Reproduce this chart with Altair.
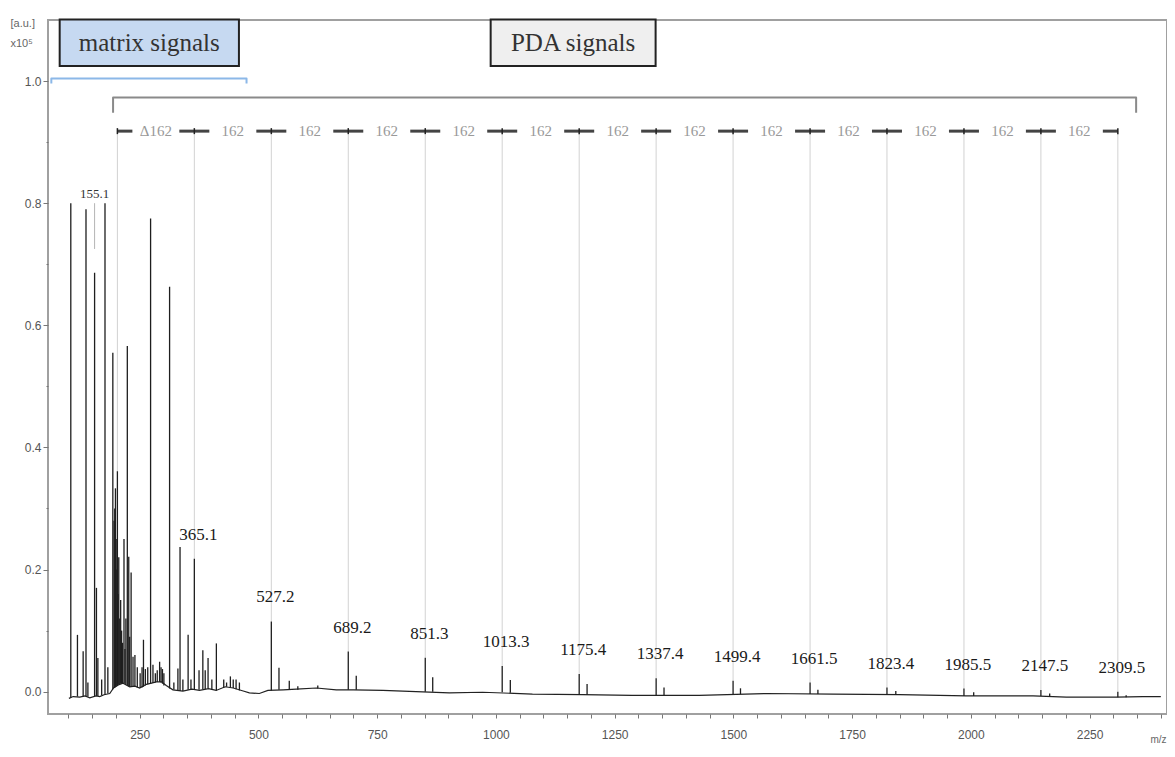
import altair as alt
import pandas as pd

# ---------------- data (intensity in units of 1e5 a.u.) ----------------
X_DOMAIN = [57, 2413]
Y_DOMAIN = [-0.0366, 1.1]
X_TICKS = list(range(100, 2401, 50))
Y_TICKS = [0.0, 0.1, 0.2, 0.3, 0.4, 0.5, 0.6, 0.7, 0.8, 0.9, 1.0]

# matrix-region peaks: m/z, apex intensity, foot intensity
MATRIX_MZ = [105, 119, 131, 137, 141, 155.1, 159, 162, 170, 177, 183, 193.5, 196, 197.5, 199, 200.5,
             202, 203.1, 204.5, 206, 208, 210, 212, 214, 217, 219, 221, 224, 227, 229, 232, 236, 240, 245,
             251, 255, 258, 262, 267, 273, 278, 283, 287, 292, 295, 298, 301, 313, 322, 330.5, 335, 341,
             352, 358, 365.1, 375, 383, 388, 394, 402, 411.5, 427, 433, 441, 447, 453, 460]
MATRIX_TOP = [0.80, 0.093, 0.066, 0.79, 0.015, 0.686, 0.17, 0.055, 0.02, 0.80, 0.04, 0.555, 0.28, 0.30, 0.333, 0.25,
              0.20, 0.361, 0.16, 0.22, 0.12, 0.15, 0.10, 0.08, 0.25, 0.07, 0.12, 0.566, 0.221, 0.09, 0.195, 0.057, 0.06, 0.04,
              0.03, 0.04, 0.085, 0.037, 0.04, 0.775, 0.044, 0.03, 0.035, 0.049, 0.04, 0.037, 0.03, 0.663, 0.015, 0.038, 0.237, 0.02,
              0.093, 0.02, 0.2175, 0.035, 0.068, 0.035, 0.055, 0.02, 0.079, 0.02, 0.015, 0.025, 0.02, 0.02, 0.015]
MATRIX_BASE = [-0.009, -0.008, -0.008, -0.008, -0.008, -0.007, -0.007, -0.007, -0.006, -0.005, -0.003, 0.004, 0.006, 0.007, 0.008, 0.009,
               0.010, 0.011, 0.011, 0.012, 0.012, 0.013, 0.013, 0.014, 0.014, 0.013, 0.012, 0.011, 0.009, 0.008, 0.008, 0.008, 0.009, 0.007,
               0.006, 0.007, 0.008, 0.010, 0.012, 0.013, 0.014, 0.015, 0.016, 0.016, 0.015, 0.013, 0.010, 0.005, 0.003, 0.002, 0.001, 0.001,
               0.003, 0.004, 0.004, 0.003, 0.004, 0.004, 0.005, 0.003, 0.002, 0.006, 0.008, 0.007, 0.006, 0.004, 0.002]

# PDA series peaks
PDA_MZ = [527.2, 689.2, 851.3, 1013.3, 1175.4, 1337.4, 1499.4, 1661.5, 1823.4, 1985.5, 2147.5, 2309.5]
PDA_TOP = [0.115, 0.0656, 0.0557, 0.042, 0.029, 0.022, 0.018, 0.0148, 0.0066, 0.005, 0.0028, 0.0]
PDA_BASE = [0.002, 0.003, 0.0, -0.001, -0.005, -0.006, -0.004, -0.004, -0.005, -0.007, -0.007, -0.009]

# smaller companion peaks
SIDE_MZ = [543.3, 565, 583, 625, 706, 867, 1030.4, 1192, 1354, 1515, 1678, 1842, 2006, 2166, 2327]
SIDE_TOP = [0.039, 0.018, 0.009, 0.01, 0.026, 0.0236, 0.019, 0.0126, 0.007, 0.0055, 0.003, 0.001, -0.001, -0.003, -0.006]
SIDE_BASE = [0.003, 0.003, 0.003, 0.005, 0.003, 0.0, -0.002, -0.005, -0.006, -0.004, -0.004, -0.005, -0.007, -0.007, -0.009]

# baseline trace
BASE_MZ = [101, 110, 124, 135, 145, 158, 166, 175, 187, 195, 205, 215, 229, 240, 250, 264, 275, 285, 296, 306,
           320, 341, 360, 376, 395, 411, 430, 447, 468, 481, 502, 520, 552, 580, 622, 664, 700, 762, 832, 902,
           972, 1077, 1182, 1287, 1428, 1569, 1710, 1850, 1990, 2131, 2201, 2306, 2362, 2400]
BASE_V = [-0.011, -0.008, -0.009, -0.007, -0.010, -0.007, -0.008, -0.005, -0.003, 0.006, 0.011, 0.014, 0.008, 0.009, 0.006,
          0.012, 0.014, 0.016, 0.016, 0.010, 0.003, 0.001, 0.004, 0.002, 0.005, 0.002, 0.008, 0.006, 0.001, -0.002,
          -0.003, 0.002, 0.003, 0.004, 0.006, 0.003, 0.003, 0.002, 0.0, -0.002, -0.001, -0.004, -0.005, -0.006, -0.006,
          -0.003, -0.004, -0.005, -0.007, -0.007, -0.009, -0.009, -0.008, -0.008]

# guide lines of the 162 ladder
GUIDE_MZ = [203.1, 365.1] + PDA_MZ
GUIDE_TOP = [0.361, 0.2175] + PDA_TOP
ROW_V = 0.918

LABEL_155 = 155.1
LABEL_155_V = [0.80, 0.725]

MATRIX_BRACKET_MZ = [64, 475]
MATRIX_BRACKET_V = [1.004, 0.996]
PDA_BRACKET_MZ = [194, 2348]
PDA_BRACKET_V = [0.973, 0.948]

BOX_TEXT = ["matrix signals", "PDA signals"]
BOX_MZ0 = [81.6, 989]
BOX_MZ1 = [459, 1336.3]
BOX_V0 = [1.0246, 1.0246]
BOX_V1 = [1.101, 1.101]
BOX_FILL = ["#c6d9f1", "#efefef"]

# ---------------- tables ----------------
matrix_df = pd.DataFrame({"mz": MATRIX_MZ, "top": MATRIX_TOP, "base": MATRIX_BASE})
pda_df = pd.DataFrame({"mz": PDA_MZ, "top": PDA_TOP, "base": PDA_BASE})
side_df = pd.DataFrame({"mz": SIDE_MZ, "top": SIDE_TOP, "base": SIDE_BASE})
peaks_df = pd.concat([matrix_df, pda_df, side_df], ignore_index=True)
base_df = pd.DataFrame({"mz": BASE_MZ, "v": BASE_V})

guide_df = pd.DataFrame({"mz": GUIDE_MZ, "top": GUIDE_TOP, "row": ROW_V})
n = len(GUIDE_MZ)
first_df = guide_df.iloc[[0]]
last_df = guide_df.iloc[[n - 1]]
mid_df = guide_df.iloc[1:n - 1]
gap_df = pd.DataFrame({
    "mz": [(a + b) / 2 for a, b in zip(GUIDE_MZ[:-1], GUIDE_MZ[1:])],
    "row": ROW_V,
    "txt": [("Δ" if i == 0 else "") + str(round(b - a)) for i, (a, b) in enumerate(zip(GUIDE_MZ[:-1], GUIDE_MZ[1:]))],
})
lab_df = pd.DataFrame({"mz": GUIDE_MZ[1:], "top": GUIDE_TOP[1:],
                       "txt": [f"{m:.1f}" for m in GUIDE_MZ[1:]]})
l155_df = pd.DataFrame({"mz": [LABEL_155], "top": [LABEL_155_V[0]], "bot": [LABEL_155_V[1]],
                        "txt": [f"{LABEL_155:.1f}"]})


def bracket(mzs, vs):
    return pd.DataFrame({"mz": [mzs[0], mzs[0], mzs[1], mzs[1]],
                         "v": [vs[1], vs[0], vs[0], vs[1]],
                         "o": [0, 1, 2, 3]})


mb_df = bracket(MATRIX_BRACKET_MZ, MATRIX_BRACKET_V)
pb_df = bracket(PDA_BRACKET_MZ, PDA_BRACKET_V)
box_df = pd.DataFrame({"txt": BOX_TEXT, "x0": BOX_MZ0, "x1": BOX_MZ1, "y0": BOX_V0, "y1": BOX_V1,
                       "fill": BOX_FILL})
box_df["cx"] = (box_df["x0"] + box_df["x1"]) / 2
box_df["cy"] = (box_df["y0"] + box_df["y1"]) / 2

# ---------------- scales & axes ----------------
SANS = "Liberation Sans"
SERIF = "Liberation Serif"
XS = alt.Scale(domain=X_DOMAIN, nice=False, zero=False)
YS = alt.Scale(domain=Y_DOMAIN, nice=False, zero=False)
XAXIS = alt.Axis(values=X_TICKS,
                 labelExpr="datum.value % 250 === 0 ? format(datum.value, 'd') : ''",
                 title="m/z", titleX=1110, titleY=25, titleAlign="center", titleBaseline="middle",
                 titleFont=SANS, titleFontSize=10, titleFontWeight="normal", titleColor="#666",
                 labelFont=SANS, labelFontSize=12, labelColor="#555", labelPadding=11,
                 labelOverlap=False, labelFlush=False,
                 tickSize=4, tickColor="#777", tickWidth=1, domain=False, grid=False)
YAXIS = alt.Axis(values=Y_TICKS,
                 labelExpr="round(datum.value * 10) % 2 === 0 ? format(datum.value, '.1f') : ''",
                 tickSize={"condition": {"test": "round(datum.value * 10) % 2 === 1", "value": 2}, "value": 5},
                 title=["[a.u.]", "x10\u2075"], titleAngle=0, titleAlign="left", titleBaseline="top",
                 titleX=-38, titleY=-3, titleFont=SANS, titleFontSize=11, titleFontWeight="normal",
                 titleColor="#666", titleLineHeight=20,
                 labelFont=SANS, labelFontSize=12, labelColor="#555", labelPadding=2,
                 tickColor="#777", tickWidth=1, domain=False, grid=False)


def X(f):
    return alt.X(f, type="quantitative", scale=XS, axis=XAXIS)


def Y(f):
    return alt.Y(f, type="quantitative", scale=YS, axis=YAXIS)


# ---------------- layers ----------------
guides = alt.Chart(guide_df).mark_rule(color="#d2d2d2", strokeWidth=1).encode(
    x=X("mz"), y=Y("top"), y2="row")

baseline = alt.Chart(base_df).mark_line(color="#222222", strokeWidth=1.2).encode(
    x=X("mz"), y=Y("v"), order="mz:Q")

peaks = alt.Chart(peaks_df).mark_rule(color="#1e1e1e", strokeWidth=1.3).encode(
    x=X("mz"), y=Y("top"), y2="base")

seg_mid = alt.Chart(mid_df).mark_rule(color="#444444", strokeWidth=3, xOffset=-15, x2Offset=15).encode(
    x=X("mz"), x2="mz", y=Y("row"))
seg_first = alt.Chart(first_df).mark_rule(color="#444444", strokeWidth=3, x2Offset=15).encode(
    x=X("mz"), x2="mz", y=Y("row"))
seg_last = alt.Chart(last_df).mark_rule(color="#444444", strokeWidth=3, xOffset=-15).encode(
    x=X("mz"), x2="mz", y=Y("row"))
caps = alt.Chart(guide_df).mark_rule(color="#222222", strokeWidth=1.5, yOffset=-3, y2Offset=3).encode(
    x=X("mz"), y=Y("row"), y2="row")

gap_text = alt.Chart(gap_df).mark_text(font=SERIF, fontSize=15, color="#999999", baseline="middle").encode(
    x=X("mz"), y=Y("row"), text="txt:N")

peak_text = alt.Chart(lab_df).mark_text(font=SERIF, fontSize=17, color="#1a1a1a", baseline="middle",
                                        dx=4, dy=-24).encode(
    x=X("mz"), y=Y("top"), text="txt:N")

leader155 = alt.Chart(l155_df).mark_rule(color="#b5b5b5", strokeWidth=1).encode(
    x=X("mz"), y=Y("top"), y2="bot")
text155 = alt.Chart(l155_df).mark_text(font=SERIF, fontSize=13, color="#333333", baseline="bottom",
                                       dy=-2).encode(
    x=X("mz"), y=Y("top"), text="txt:N")

matrix_bracket = alt.Chart(mb_df).mark_line(color="#8cb8e8", strokeWidth=2, strokeJoin="round").encode(
    x=X("mz"), y=Y("v"), order="o:Q")
pda_bracket = alt.Chart(pb_df).mark_line(color="#8a8a8a", strokeWidth=2, strokeJoin="round").encode(
    x=X("mz"), y=Y("v"), order="o:Q")

boxes = alt.Chart(box_df).mark_rect(stroke="#222222", strokeWidth=2).encode(
    x=X("x0"), x2="x1", y=Y("y0"), y2="y1",
    fill=alt.Fill("fill:N", scale=None))
box_text = alt.Chart(box_df).mark_text(font=SERIF, fontSize=25, color="#333333", baseline="middle").encode(
    x=X("cx"), y=Y("cy"), text="txt:N")

chart = alt.layer(
    guides, baseline, peaks, leader155,
    seg_mid, seg_first, seg_last, caps, gap_text,
    peak_text, text155,
    matrix_bracket, pda_bracket, boxes, box_text,
).properties(
    width=1119, height=694,
    autosize=alt.AutoSizeParams(type="none"),
    padding={"left": 40, "top": 12, "right": 0, "bottom": 30},
    background="white",
).configure_view(stroke="#a0a0a0", strokeWidth=2)

chart.save("out.html", embed_options={"renderer": "svg", "actions": False})
